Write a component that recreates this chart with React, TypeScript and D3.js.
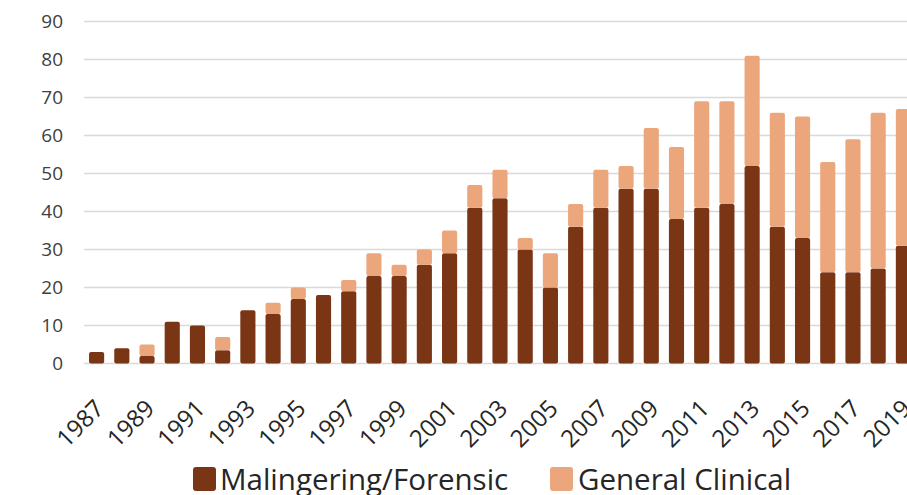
import React from "react";
import * as d3 from "d3";

const years: number[] = [
  1987, 1988, 1989, 1990, 1991, 1992, 1993, 1994, 1995, 1996, 1997,
  1998, 1999, 2000, 2001, 2002, 2003, 2004, 2005, 2006, 2007, 2008,
  2009, 2010, 2011, 2012, 2013, 2014, 2015, 2016, 2017, 2018, 2019,
];
const malingeringForensic: number[] = [
  3, 4, 2, 11, 10, 3.5, 14, 13, 17, 18, 19,
  23, 23, 26, 29, 41, 43.5, 30, 20, 36, 41, 46,
  46, 38, 41, 42, 52, 36, 33, 24, 24, 25, 31,
];
const generalClinical: number[] = [
  0, 0, 3, 0, 0, 3.5, 0, 3, 3, 0, 3,
  6, 3, 4, 6, 6, 7.5, 3, 9, 6, 10, 6,
  16, 19, 28, 27, 29, 30, 32, 29, 35, 41, 36,
];
const yTicks: number[] = [0, 10, 20, 30, 40, 50, 60, 70, 80, 90];
const seriesNames: string[] = ["Malingering/Forensic", "General Clinical"];
const seriesColors: string[] = ["#7A3515", "#EBA67C"];

const W = 907;
const H = 495;
const FONT = "'Open Sans', 'DejaVu Sans', sans-serif";

export default function App() {
  const x = d3
    .scaleBand<number>()
    .domain(years)
    .range([84, 916])
    .paddingInner(0.4)
    .paddingOuter(0.2);
  const y = d3.scaleLinear().domain([0, 90]).range([363.5, 21.5]);
  const bw = x.bandwidth();

  const rows = years.map((yr, i) => ({
    year: yr,
    a: malingeringForensic[i],
    b: generalClinical[i],
  }));
  const stacked = d3.stack<any>().keys(["a", "b"])(rows);

  return (
    <div style={{ position: "absolute", left: 0, top: 0 }}>
      <svg width={W} height={H} style={{ display: "block", background: "#fff" }}>
        {yTicks.map((t) => (
          <g key={t}>
            <line
              x1={84}
              x2={W}
              y1={y(t)}
              y2={y(t)}
              stroke="#D9D9D9"
              strokeWidth={1.3}
            />
            <text
              x={63}
              y={y(t)}
              dy="0.36em"
              textAnchor="end"
              fontFamily={FONT}
              fontSize={19}
              fill="#404040"
            >
              {t}
            </text>
          </g>
        ))}
        <g>
          {stacked.map((layer, li) =>
            layer.map((d, i) => {
              const h = y(d[0]) - y(d[1]);
              if (h <= 0) return null;
              return (
                <rect
                  key={li + "-" + i}
                  x={x(years[i])!}
                  y={y(d[1])}
                  width={bw}
                  height={h}
                  rx={2}
                  fill={seriesColors[li]}
                />
              );
            })
          )}
        </g>
        {years
          .filter((yr) => yr % 2 === 1)
          .map((yr) => {
            const cx = x(yr)! + bw / 2 + 3;
            const cy = 404;
            return (
              <text
                key={yr}
                transform={`translate(${cx},${cy}) rotate(-45)`}
                textAnchor="end"
                dy="0.35em"
                fontFamily={FONT}
                fontSize={24}
                fill="#262626"
              >
                {yr}
              </text>
            );
          })}
        <g>
          <rect x={193} y={467} width={23} height={24} rx={3} fill={seriesColors[0]} />
          <text x={220} y={490} fontFamily={FONT} fontSize={29.5} fill="#262626">
            {seriesNames[0]}
          </text>
          <rect x={550} y={467} width={23} height={24} rx={3} fill={seriesColors[1]} />
          <text x={578} y={490} fontFamily={FONT} fontSize={29.5} fill="#262626">
            {seriesNames[1]}
          </text>
        </g>
      </svg>
    </div>
  );
}
